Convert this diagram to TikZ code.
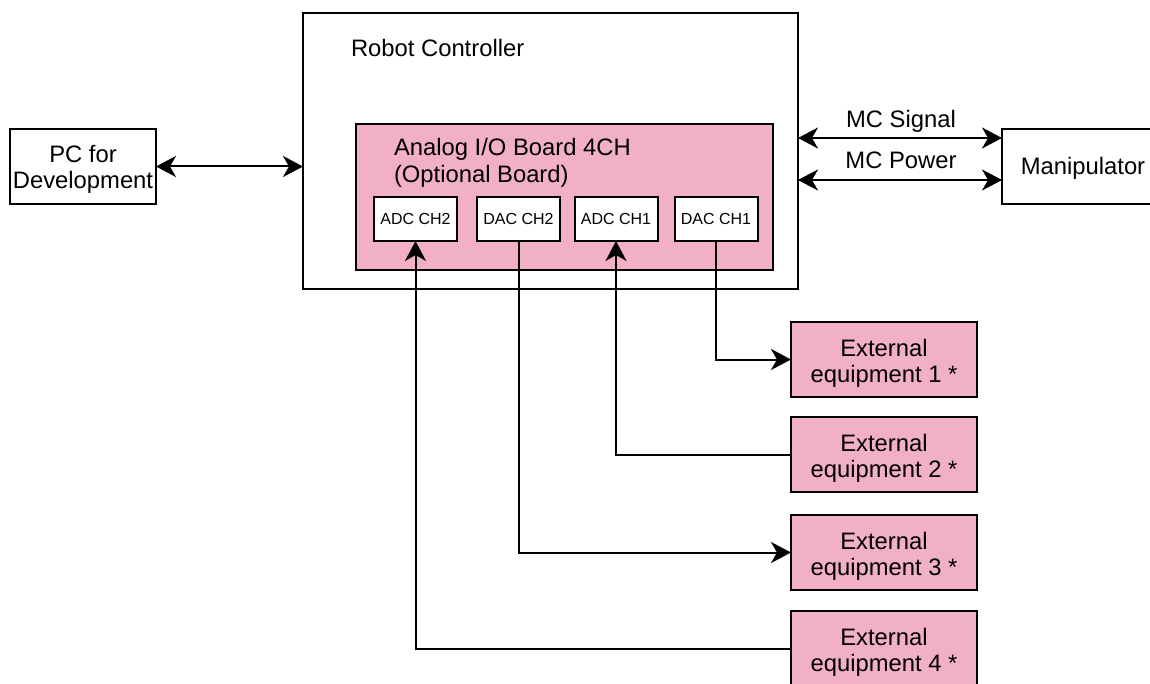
\documentclass[tikz,border=0pt]{standalone}
\usepackage{fontspec}
\setmainfont{Liberation Sans}
\usetikzlibrary{arrows.meta}
\definecolor{boardpink}{RGB}{242,175,200}
\tikzset{
  box/.style={draw=black, line width=2pt, fill=white, inner sep=0pt, outer sep=0pt, align=center,
    font=\fontsize{23.8}{28}\selectfont},
  pinkbox/.style={box, fill=boardpink},
  chbox/.style={box, font=\fontsize{16}{19}\selectfont, minimum width=83pt, minimum height=44pt},
  extbox/.style={pinkbox, minimum width=186pt, minimum height=75pt},
  txt/.style={inner sep=0pt, outer sep=0pt, align=center, font=\fontsize{23.8}{26.5}\selectfont},
  conn/.style={line width=2pt, draw=black},
  tip/.style={-{Stealth[length=20pt, width=21pt, inset=6pt]}},
  tips/.style={{Stealth[length=20pt, width=21pt, inset=6pt]}-{Stealth[length=20pt, width=21pt, inset=6pt]}},
}
\begin{document}
\begin{tikzpicture}[x=1pt, y=-1pt]
\useasboundingbox (0,0) rectangle (1150,684);
% main boxes
\node[box, minimum width=495pt, minimum height=276pt] (rc) at (550.5,151.5) {};
\node[txt, anchor=west] (rclabel) at (351,48) {Robot Controller};
\node[pinkbox, minimum width=417pt, minimum height=146pt] (board) at (564,197) {};
\node[txt, anchor=west, align=left] (boardlabel) at (394,163) {Analog I/O Board 4CH\\(Optional Board)};
\node[chbox] (adc2) at (415.5,219) {ADC CH2};
\node[chbox] (dac2) at (518.5,219) {DAC CH2};
\node[chbox] (adc1) at (616,219) {ADC CH1};
\node[chbox] (dac1) at (716,219) {DAC CH1};
\node[box, minimum width=146pt, minimum height=75pt] (pc) at (83,166.5) {};
\node[txt] (pclabel) at (83,169.5) {PC for\\Development};
\node[box, minimum width=160pt, minimum height=75pt, anchor=west] (man) at (1002,166.5) {};
\node[txt] (manlabel) at (1083,168) {Manipulator};
% external equipment
\node[extbox] (e1) at (884,359.5) {};
\node[extbox] (e2) at (884,454.5) {};
\node[extbox] (e3) at (884,552.5) {};
\node[extbox] (e4) at (884,648.5) {};
\node[txt] (e1t) at (e1.center) [yshift=-4pt] {External\\equipment 1 *};
\node[txt] (e2t) at (e2.center) [yshift=-4pt] {External\\equipment 2 *};
\node[txt] (e3t) at (e3.center) [yshift=-4pt] {External\\equipment 3 *};
\node[txt] (e4t) at (e4.center) [yshift=-4pt] {External\\equipment 4 *};
% connectors
\draw[conn, tips] (pc.east) -- (pc.east -| rc.west);
\coordinate (sigL) at (798,138);
\coordinate (powL) at (798,180);
\draw[conn, tips] (sigL) -- (sigL -| man.west);
\draw[conn, tips] (powL) -- (powL -| man.west);
\node[txt, anchor=base] (siglabel) at (901,128) {MC Signal};
\node[txt, anchor=base] (powlabel) at (901,169) {MC Power};
\draw[conn, tip] (dac1.south) |- (e1.west);
\draw[conn, tip] (e2.west) -| (adc1.south);
\draw[conn, tip] (dac2.south) |- (e3.west);
\draw[conn, tip] (e4.west) -| (adc2.south);
\end{tikzpicture}
\end{document}
